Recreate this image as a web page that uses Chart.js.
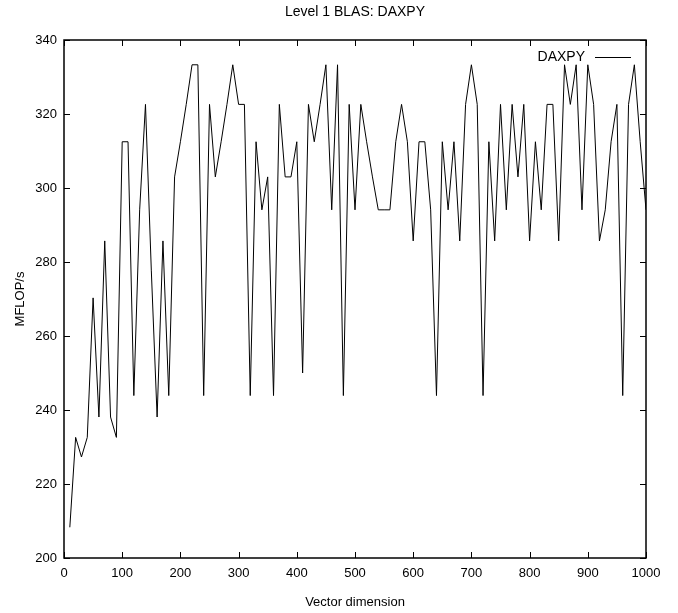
<!DOCTYPE html>
<html>
<head>
<meta charset="utf-8">
<title>Level 1 BLAS: DAXPY</title>
<script src="https://cdn.jsdelivr.net/npm/chart.js@4.4.1/dist/chart.umd.min.js"></script>
<style>
  html, body { margin: 0; padding: 0; background: #fff; }
  #wrap { width: 678px; height: 613px; }
</style>
</head>
<body>
<div id="wrap"><canvas id="chart" width="678" height="613"></canvas></div>
<script>
// vector dimensions (x)
const dims = [
  10, 20, 30, 40, 50, 60, 70, 80, 90, 100,
  110, 120, 130, 140, 150, 160, 170, 180, 190, 200,
  210, 220, 230, 240, 250, 260, 270, 280, 290, 300,
  310, 320, 330, 340, 350, 360, 370, 380, 390, 400,
  410, 420, 430, 440, 450, 460, 470, 480, 490, 500,
  510, 520, 530, 540, 550, 560, 570, 580, 590, 600,
  610, 620, 630, 640, 650, 660, 670, 680, 690, 700,
  710, 720, 730, 740, 750, 760, 770, 780, 790, 800,
  810, 820, 830, 840, 850, 860, 870, 880, 890, 900,
  910, 920, 930, 940, 950, 960, 970, 980, 990, 1000
];

// DAXPY MFLOP/s
const daxpy = [
  208.3, 232.6, 227.3, 232.6, 270.3, 238.1, 285.7, 238.1, 232.6, 312.5,
  312.5, 243.9, 294.1, 322.6, 277.8, 238.1, 285.7, 243.9, 303.0, 312.5,
  322.6, 333.3, 333.3, 243.9, 322.6, 303.0, 312.5, 322.6, 333.3, 322.6,
  322.6, 243.9, 312.5, 294.1, 303.0, 243.9, 322.6, 303.0, 303.0, 312.5,
  250.0, 322.6, 312.5, 322.6, 333.3, 294.1, 333.3, 243.9, 322.6, 294.1,
  322.6, 312.5, 303.0, 294.1, 294.1, 294.1, 312.5, 322.6, 312.5, 285.7,
  312.5, 312.5, 294.1, 243.9, 312.5, 294.1, 312.5, 285.7, 322.6, 333.3,
  322.6, 243.9, 312.5, 285.7, 322.6, 294.1, 322.6, 303.0, 322.6, 285.7,
  312.5, 294.1, 322.6, 322.6, 285.7, 333.3, 322.6, 333.3, 294.1, 333.3,
  322.6, 285.7, 294.1, 312.5, 322.6, 243.9, 322.6, 333.3, 312.5, 294.1
];

const xTicks = [0, 100, 200, 300, 400, 500, 600, 700, 800, 900, 1000];
const yTicks = [200, 220, 240, 260, 280, 300, 320, 340];

const FONT = { family: '"Liberation Sans", Arial, sans-serif', size: 13 };

// gnuplot-like frame with inward ticks on all four sides
const framePlugin = {
  id: "frame",
  afterDraw(chart) {
    const { ctx, chartArea: a, scales } = chart;
    const len = 6;
    ctx.save();
    ctx.strokeStyle = "#000";
    ctx.lineWidth = 1;
    ctx.beginPath();
    scales.x.ticks.forEach((t) => {
      const px = Math.round(scales.x.getPixelForValue(t.value)) + 0.5;
      ctx.moveTo(px, a.bottom);
      ctx.lineTo(px, a.bottom - len);
      ctx.moveTo(px, a.top);
      ctx.lineTo(px, a.top + len);
    });
    scales.y.ticks.forEach((t) => {
      const py = Math.round(scales.y.getPixelForValue(t.value)) + 0.5;
      ctx.moveTo(a.left, py);
      ctx.lineTo(a.left + len, py);
      ctx.moveTo(a.right, py);
      ctx.lineTo(a.right - len, py);
    });
    ctx.stroke();
    ctx.lineWidth = 1.5;
    ctx.strokeRect(Math.round(a.left), Math.round(a.top), Math.round(a.right - a.left), Math.round(a.bottom - a.top));

    // key, top right inside the plot
    const ky = a.top + 17;
    ctx.font = `14px ${FONT.family}`;
    ctx.fillStyle = "#000";
    ctx.textAlign = "right";
    ctx.textBaseline = "middle";
    ctx.fillText(chart.data.datasets[0].label, a.right - 61, ky);
    ctx.lineWidth = 1;
    ctx.beginPath();
    ctx.moveTo(a.right - 51, ky + 0.5);
    ctx.lineTo(a.right - 15, ky + 0.5);
    ctx.stroke();
    ctx.restore();
  },
};

function renderChart() {
  const ctx = document.getElementById("chart").getContext("2d");
  new Chart(ctx, {
    type: "line",
    data: {
      datasets: [
        {
          label: "DAXPY",
          data: dims.map((d, i) => ({ x: d, y: daxpy[i] })),
          borderColor: "#000",
          borderWidth: 1,
          pointRadius: 0,
          tension: 0,
          fill: false,
        },
      ],
    },
    options: {
      responsive: false,
      animation: false,
      layout: { padding: { left: 0, right: 32, top: 0, bottom: 0 } },
      plugins: {
        legend: { display: false },
        tooltip: { enabled: false },
        title: {
          display: true,
          text: "Level 1 BLAS: DAXPY",
          color: "#000",
          fullSize: false,
          font: { family: FONT.family, size: 14, weight: "normal" },
          padding: { top: 4, bottom: 19.2 },
        },
      },
      scales: {
        x: {
          type: "linear",
          min: 0,
          max: 1000,
          afterBuildTicks: (s) => { s.ticks = xTicks.map((v) => ({ value: v })); },
          afterFit: (s) => { s.height = 55; },
          grid: { display: false, drawTicks: false },
          border: { display: false },
          ticks: { color: "#000", font: FONT, padding: 8, maxRotation: 0, autoSkip: false, callback: (v) => String(v) },
          title: { display: true, text: "Vector dimension", color: "#000", font: FONT, padding: { top: 0, bottom: 3 } },
        },
        y: {
          type: "linear",
          min: 200,
          max: 340,
          afterBuildTicks: (s) => { s.ticks = yTicks.map((v) => ({ value: v })); },
          afterFit: (s) => { s.width = 64; },
          grid: { display: false, drawTicks: false },
          border: { display: false },
          ticks: { color: "#000", font: FONT, padding: 7, autoSkip: false, callback: (v) => String(v) },
          title: { display: true, text: "MFLOP/s", color: "#000", font: FONT, padding: { top: 13, bottom: 0 } },
        },
      },
    },
    plugins: [framePlugin],
  });
}

document.addEventListener("DOMContentLoaded", renderChart);
</script>
</body>
</html>
